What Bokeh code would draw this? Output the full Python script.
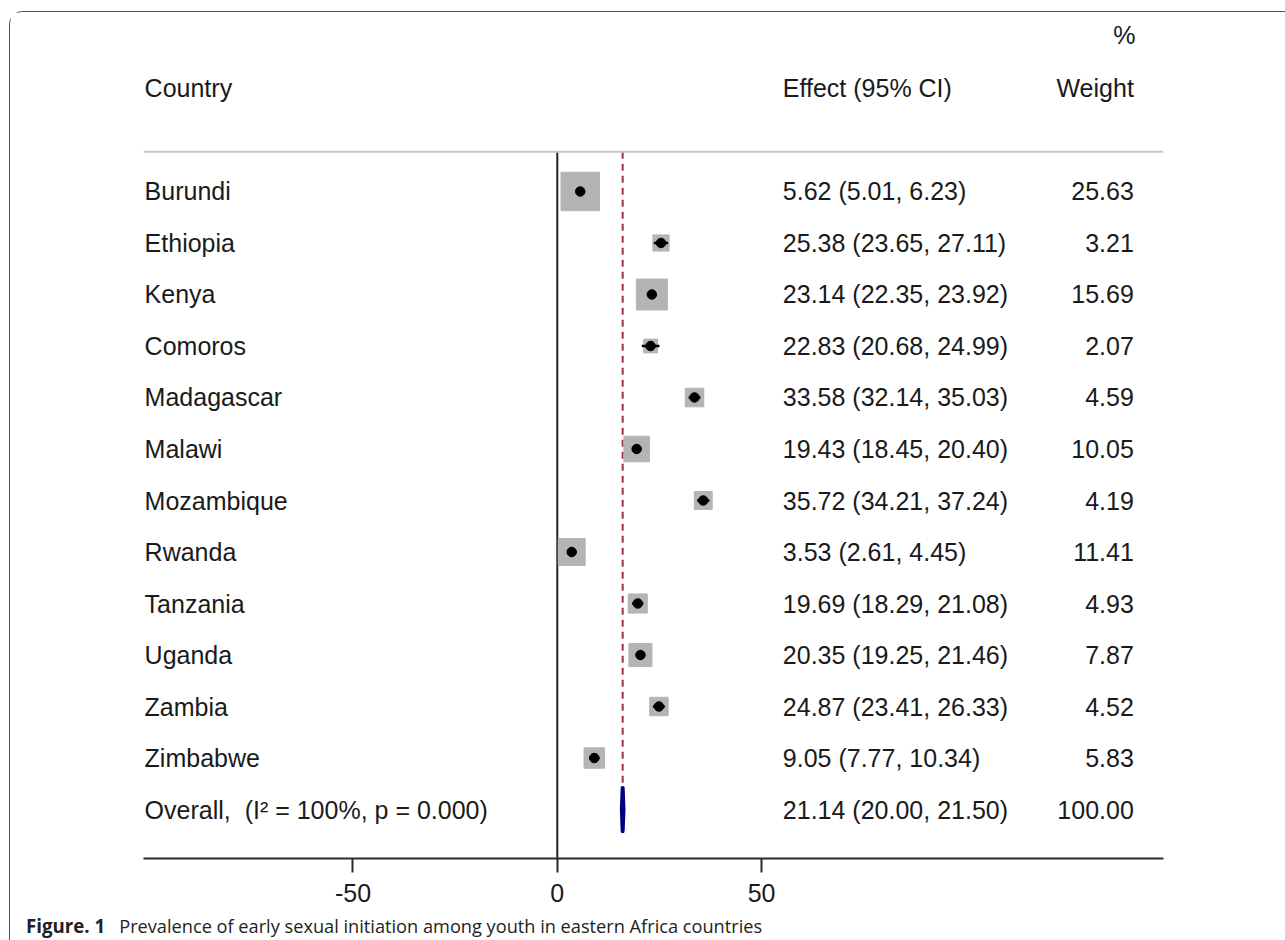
from bokeh.plotting import figure
from bokeh.models import Range1d, LinearAxis, FixedTicker, Span, Div
from bokeh.layouts import column
from bokeh.core.properties import value
from bokeh.embed import file_html
from bokeh.resources import INLINE

# ---------------- data ----------------
countries = ["Burundi", "Ethiopia", "Kenya", "Comoros", "Madagascar", "Malawi",
             "Mozambique", "Rwanda", "Tanzania", "Uganda", "Zambia", "Zimbabwe"]
effect = [5.62, 25.38, 23.14, 22.83, 33.58, 19.43, 35.72, 3.53, 19.69, 20.35, 24.87, 9.05]
ci_low = [5.01, 23.65, 22.35, 20.68, 32.14, 18.45, 34.21, 2.61, 18.29, 19.25, 23.41, 7.77]
ci_high = [6.23, 27.11, 23.92, 24.99, 35.03, 20.40, 37.24, 4.45, 21.08, 21.46, 26.33, 10.34]
weight = [25.63, 3.21, 15.69, 2.07, 4.59, 10.05, 4.19, 11.41, 4.93, 7.87, 4.52, 5.83]

overall_label = "Overall, \u00a0(I\u00b2 = 100%, p = 0.000)"
overall_effect_text = "21.14 (20.00, 21.50)"
overall_weight_text = "100.00"
# pooled diamond and reference line as drawn in the picture
overall_drawn = 16.0
overall_drawn_low = 15.8
overall_drawn_high = 16.2

header_labels = ["Country", "Effect (95% CI)", "Weight"]
x_ticks = [-50, 0, 50]
caption_bold = "Figure. 1"
caption_text = "Prevalence of early sexual initiation among youth in eastern Africa countries"

# ---------------- derived ----------------
n = len(countries)
rows = list(range(n))
overall_row = n
effect_text = ["%.2f (%.2f, %.2f)" % (e, l, h) for e, l, h in zip(effect, ci_low, ci_high)]
weight_text = ["%.2f" % w for w in weight]
box_size = [6.8 * (w ** 0.5) + 4 for w in weight]

FONT = value("Liberation Sans")
TXT = "#1a1a1a"
FS = "25px"

W, H = 1274, 900
TOP, FRAME_H = 3, 843
p = figure(width=W, height=H,
           x_range=Range1d(-101.27, 148.36), y_range=Range1d(12.951, -3.417),
           x_axis_type=None, y_axis_type=None,
           output_backend="svg", toolbar_location=None,
           min_border_left=133, min_border_right=W - 133 - 1020,
           min_border_top=TOP, min_border_bottom=H - TOP - FRAME_H,
           outline_line_color=None, background_fill_color="white",
           border_fill_color="white")
p.xgrid.visible = False
p.ygrid.visible = False

# header rule
p.add_layout(Span(location=-0.77, dimension="width", line_color="#c8c8c8", line_width=2))

# zero line
p.segment(x0=[0], y0=[-0.77], x1=[0], y1=[12.951], line_color="#222222", line_width=2)
# reference (pooled) dashed line
p.segment(x0=[overall_drawn], y0=[-0.77], x1=[overall_drawn], y1=[overall_row + 0.44],
          line_color="#a0323e", line_width=2, line_dash="7 5")

# weight boxes
p.scatter(x=effect, y=rows, marker="square", size=box_size,
          fill_color="#b4b4b4", line_color="#b4b4b4", line_width=1)
# CI lines
p.segment(x0=ci_low, y0=rows, x1=ci_high, y1=rows, line_color="black", line_width=2.5)
# point estimates
p.scatter(x=effect, y=rows, marker="circle", size=9.5, fill_color="black", line_color="black")

# overall diamond
p.patch(x=[overall_drawn_low, overall_drawn, overall_drawn_high, overall_drawn],
        y=[overall_row, overall_row - 0.42, overall_row, overall_row + 0.42],
        fill_color="#000080", line_color="#000080", line_width=4, line_join="round")

# text columns
x_country, x_effect, x_weight = -101.0, 55.2, 141.1
p.text(x=[x_country] * (n + 1), y=rows + [overall_row], text=countries + [overall_label],
       text_font=FONT, text_font_size=FS, text_color=TXT,
       text_align="left", text_baseline="middle")
p.text(x=[x_effect] * (n + 1), y=rows + [overall_row], text=effect_text + [overall_effect_text],
       text_font=FONT, text_font_size=FS, text_color=TXT,
       text_align="left", text_baseline="middle")
p.text(x=[x_weight] * (n + 1), y=rows + [overall_row], text=weight_text + [overall_weight_text],
       text_font=FONT, text_font_size=FS, text_color=TXT,
       text_align="right", text_baseline="middle")

# headers
p.text(x=[x_country, x_effect], y=[-2, -2], text=header_labels[:2],
       text_font=FONT, text_font_size=FS, text_color=TXT,
       text_align="left", text_baseline="middle")
p.text(x=[x_weight, x_weight + 0.4], y=[-2, -3.03], text=[header_labels[2], "%"],
       text_font=FONT, text_font_size=FS, text_color=TXT,
       text_align="right", text_baseline="middle")

# axis
ax = LinearAxis(ticker=FixedTicker(ticks=x_ticks, minor_ticks=[]),
                axis_line_color="#2a2a2a", axis_line_width=2,
                major_tick_line_color="#2a2a2a", major_tick_line_width=2,
                major_tick_out=14, major_tick_in=0,
                minor_tick_out=0, minor_tick_in=0,
                major_label_standoff=11,
                major_label_overrides={t: str(t) for t in x_ticks},
                major_label_text_font="Liberation Sans",
                major_label_text_font_size=FS,
                major_label_text_color=TXT)
p.add_layout(ax, "below")

# caption
cap = Div(text="<b style='font-size:18.7px'>%s</b><span style='margin-left:14px'>%s</span>"
               % (caption_bold, caption_text),
          width=W, height=27,
          styles={"font-family": "'Open Sans', sans-serif", "font-size": "18.2px",
                  "color": "#222222", "padding-left": "11px", "line-height": "17px",
                  "white-space": "nowrap", "background-color": "white"})

layout = column(p, cap, spacing=0,
                styles={"margin-left": "9px", "margin-top": "11px",
                        "border-top": "1.5px solid #555", "border-left": "1.5px solid #555",
                        "border-top-left-radius": "14px", "background-color": "white"})

open("out.html", "w").write(file_html(layout, INLINE))
